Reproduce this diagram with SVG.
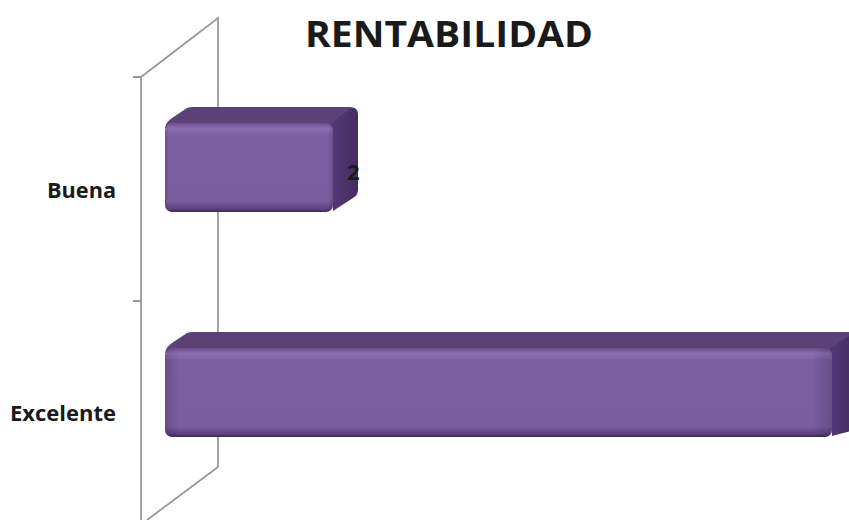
<svg xmlns="http://www.w3.org/2000/svg" width="849" height="520" viewBox="0 0 849 520">
<defs>
<linearGradient id="front" x1="0" y1="0" x2="0" y2="1">
<stop offset="0" stop-color="#6A4E8E"/>
<stop offset="0.06" stop-color="#8B6DB2"/>
<stop offset="0.15" stop-color="#7B5DA0"/>
<stop offset="0.88" stop-color="#7A5C9F"/>
<stop offset="0.96" stop-color="#5E4482"/>
<stop offset="1" stop-color="#3F2A58"/>
</linearGradient>
<linearGradient id="frontH" x1="0" y1="0" x2="1" y2="0">
<stop offset="0" stop-color="#000" stop-opacity="0.15"/>
<stop offset="0.02" stop-color="#000" stop-opacity="0"/>
<stop offset="0.97" stop-color="#000" stop-opacity="0"/>
<stop offset="1" stop-color="#000" stop-opacity="0.15"/>
</linearGradient>
<linearGradient id="side" x1="0" y1="0" x2="1" y2="0">
<stop offset="0" stop-color="#54397A"/>
<stop offset="1" stop-color="#432D5F"/>
</linearGradient>
<style>
.axis{stroke:#999;stroke-width:1.8;fill:none}
.top{fill:#5B4176}
.lbl{font-family:"Open Sans","Liberation Sans",sans-serif;font-weight:bold;fill:#1A1A1A}
</style>
</defs>
<rect width="849" height="520" fill="#fff"/>
<g id="axes">
<path class="axis" d="M133 77H141L218 18V467L147 520M141 77V520M133 301H141"/>
</g>
<text class="lbl" x="449" y="47" font-size="36" text-anchor="middle" textLength="288" lengthAdjust="spacingAndGlyphs">RENTABILIDAD</text>
<g id="bar-buena">
<path class="top" d="M165 128Q166 122 172 118L187 108Q189 107 193 107H350Q358 107 357 115L333 125Z"/>
<path fill="url(#side)" d="M330 124L350 109Q358 106 358 115V190Q358 195 353 198L333 211Z"/>
<rect x="165" y="123" width="168" height="89" rx="7" fill="url(#front)"/>
<rect x="165" y="123" width="168" height="89" rx="7" fill="url(#frontH)"/>
<text class="lbl" x="116" y="198" font-size="21" text-anchor="end" textLength="69" lengthAdjust="spacingAndGlyphs">Buena</text>
<text class="lbl" x="347" y="180" font-size="22">2</text>
</g>
<g id="bar-excelente">
<path class="top" d="M165 353Q166 347 172 343L187 333Q189 332 193 332H870L832 350Z"/>
<path fill="url(#side)" d="M829 349L855 332V430L832 436Z"/>
<rect x="165" y="348" width="667" height="89" rx="7" fill="url(#front)"/>
<rect x="165" y="348" width="667" height="89" rx="7" fill="url(#frontH)"/>
<text class="lbl" x="116" y="421" font-size="21" text-anchor="end" textLength="106" lengthAdjust="spacingAndGlyphs">Excelente</text>
</g>
</svg>
